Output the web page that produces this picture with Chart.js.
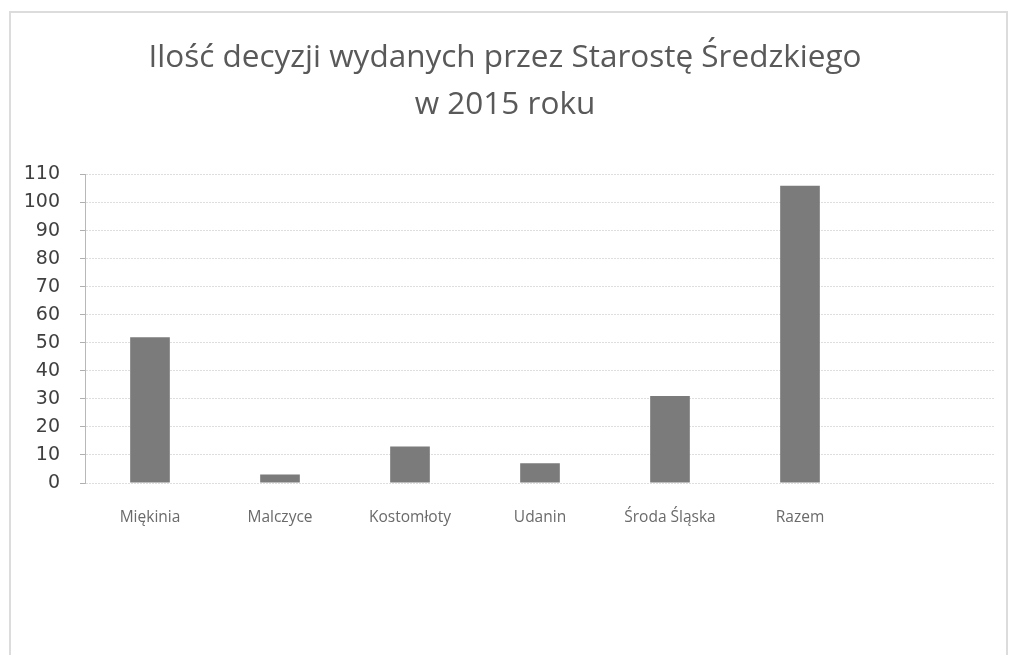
<!DOCTYPE html>
<html>
<head>
<meta charset="utf-8">
<script src="https://cdn.jsdelivr.net/npm/chart.js@4/dist/chart.umd.min.js"></script>
<style>
  html, body { margin: 0; padding: 0; background: #ffffff; }
  #frame { position: absolute; left: 9px; top: 11px; width: 999px; height: 660px; border: 2px solid #dcdcdc; box-sizing: border-box; }
  #wrap { position: absolute; left: 0; top: 0; width: 1015px; height: 655px; }
</style>
</head>
<body>
<div id="frame"></div>
<div id="wrap"><canvas id="c" width="1015" height="655"></canvas></div>
<script>
const titleLines = ['Ilość decyzji wydanych przez Starostę Średzkiego', 'w 2015 roku'];
const categories = ['Miękinia', 'Malczyce', 'Kostomłoty', 'Udanin', 'Środa Śląska', 'Razem'];
const decisions = [52, 3, 13, 7, 31, 106];
const yTicks = [0, 10, 20, 30, 40, 50, 60, 70, 80, 90, 100, 110];

const labels = categories.concat(['']);

const shiftTitle = {
  id: 'shiftTitle',
  afterLayout(chart) {
    const t = chart.titleBlock;
    if (t) { t.left = 15; t.right = 995; t.width = 980; }
  }
};

new Chart(document.getElementById('c'), {
  type: 'bar',
  data: {
    labels: labels,
    datasets: [{
      data: decisions,
      backgroundColor: '#7b7b7b',
      borderWidth: 0,
      barPercentage: 0.305,
      categoryPercentage: 1.0
    }]
  },
  plugins: [shiftTitle],
  options: {
    responsive: false,
    animation: false,
    devicePixelRatio: 1,
    layout: { padding: { left: 0, right: 20, top: 0, bottom: 0 } },
    plugins: {
      legend: { display: false },
      tooltip: { enabled: false },
      title: {
        display: true,
        text: titleLines,
        color: '#595959',
        font: { family: 'Open Sans', size: 31.5, weight: 'normal', lineHeight: 1.5 },
        padding: { top: 34, bottom: 46 }
      }
    },
    scales: {
      x: {
        grid: { display: false, drawTicks: false },
        border: { display: false },
        ticks: {
          color: '#6a6a6a',
          font: { family: 'Open Sans', size: 15.5 },
          padding: 25,
          maxRotation: 0,
          autoSkip: false
        },
        afterFit: (s) => { s.height = 172; }
      },
      y: {
        min: 0,
        max: yTicks[yTicks.length - 1],
        afterBuildTicks: (s) => { s.ticks = yTicks.map(v => ({ value: v })); },
        grid: { color: '#dedede', lineWidth: 1, drawTicks: true, tickLength: 5, tickColor: '#b0b0b0' },
        border: { display: true, color: '#b8b8b8', dash: [2, 1] },
        ticks: {
          color: '#404040',
          font: { family: 'DejaVu Sans', size: 19 },
          padding: 20
        },
        afterFit: (s) => { s.width = 85; }
      }
    }
  }
});
</script>
</body>
</html>
